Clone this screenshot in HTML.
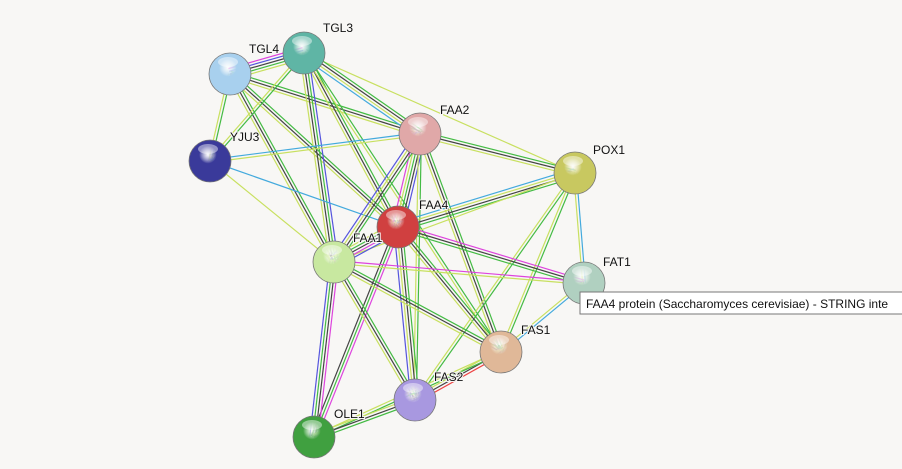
<!DOCTYPE html>
<html><head><meta charset="utf-8"><style>
html,body{margin:0;padding:0;background:#f8f7f5;}
svg{display:block}
text{font-family:"Liberation Sans",sans-serif;font-size:12px;fill:#111;paint-order:stroke;stroke:#f8f7f5;stroke-width:2px}
</style></head><body>
<svg id="s" width="902" height="469" xmlns="http://www.w3.org/2000/svg">
<rect width="902" height="469" fill="#f8f7f5"/>
<g id="edges"></g><g id="nodes"></g>
<rect x="580" y="292" width="330" height="22" fill="#fff" stroke="#777"/>
<text x="586" y="308" style="stroke:none">FAA4 protein (Saccharomyces cerevisiae) - STRING inte</text>
</svg>
<script>
var N={TGL4:[230,74,'#a8d0ee'],TGL3:[304,53,'#5fb5a5'],YJU3:[210,161,'#3a3a9a'],FAA2:[420,134,'#e0a8a8'],POX1:[575,173,'#c8c860'],FAA4:[398,227,'#d04040'],FAA1:[334,262,'#c8e8a0'],FAT1:[584,283,'#b0d0c0'],FAS1:[501,352,'#e0b898'],FAS2:[415,400,'#a898e0'],OLE1:[314,437,'#40a040']};
var L={TGL4:[249,53],TGL3:[323,32],YJU3:[230,141],FAA2:[440,114],POX1:[593,154],FAA4:[419,209],FAA1:[353,242],FAT1:[603,266],FAS1:[521,334],FAS2:[434,381],OLE1:[334,418]};
var C={g:'#44bb44',k:'#444444',b:'#5555dd',y:'#c8e060',m:'#dd44dd',c:'#44aadd',r:'#ee4444'};
var E=[['TGL4','TGL3','mbkgy'],['TGL4','YJU3','gy'],['TGL4','FAA2','gky'],['TGL4','FAA4','gky'],['TGL4','FAA1','gky'],['TGL3','POX1','y'],['TGL3','YJU3','gy'],['TGL3','FAA2','gkyc'],['TGL3','FAA4','gky'],['TGL3','FAA1','bgky'],['TGL3','FAS1','gy'],['YJU3','FAA2','cy'],['YJU3','FAA4','c'],['YJU3','FAA1','y'],['FAA2','POX1','gky'],['FAA2','FAA4','bkgym'],['FAA2','FAA1','gkyb'],['FAA2','FAS1','gky'],['FAA2','FAS2','gy'],['POX1','FAA4','gkyc'],['POX1','FAA1','y'],['POX1','FAT1','cy'],['POX1','FAS1','gy'],['POX1','FAS2','gy'],['FAA4','FAA1','bmkgy'],['FAA4','FAT1','mkg'],['FAA4','FAS1','gky'],['FAA4','FAS2','gkyb'],['FAA4','OLE1','mgk'],['FAA1','FAT1','my'],['FAA1','FAS1','gky'],['FAA1','FAS2','gky'],['FAA1','OLE1','mkgb'],['FAT1','FAS1','cy'],['FAS1','FAS2','rky'],['FAS1','OLE1','gy'],['FAS2','OLE1','gky']];
var ns='http://www.w3.org/2000/svg',eg=document.getElementById('edges'),ng=document.getElementById('nodes'),s=document.getElementById('s');
E.forEach(function(e){var a=N[e[0]],b=N[e[1]],dx=b[0]-a[0],dy=b[1]-a[1],l=Math.hypot(dx,dy),px=-dy/l,py=dx/l,n=e[2].length;
for(var i=0;i<n;i++){var o=(i-(n-1)/2)*2.8,ln=document.createElementNS(ns,'line');
ln.setAttribute('x1',a[0]+px*o);ln.setAttribute('y1',a[1]+py*o);ln.setAttribute('x2',b[0]+px*o);ln.setAttribute('y2',b[1]+py*o);
ln.setAttribute('stroke',C[e[2][i]]);ln.setAttribute('stroke-width','1.2');eg.appendChild(ln);}});
var defs=document.createElementNS(ns,'defs');s.insertBefore(defs,s.firstChild);
Object.keys(N).forEach(function(k,i){var n=N[k];
defs.innerHTML+='<radialGradient id="g'+i+'" cx="45%" cy="35%" r="70%"><stop offset="0" stop-color="#fff" stop-opacity="0.7"/><stop offset="0.3" stop-color="'+n[2]+'"/><stop offset="1" stop-color="'+n[2]+'"/></radialGradient>';
ng.innerHTML+='<circle cx="'+n[0]+'" cy="'+n[1]+'" r="21" fill="url(#g'+i+')" stroke="#777" stroke-width="0.8"/><ellipse cx="'+(n[0]-2)+'" cy="'+(n[1]-12)+'" rx="10" ry="5" fill="#fff" opacity="0.45"/><text x="'+L[k][0]+'" y="'+L[k][1]+'">'+k+'</text>';});
</script>
</body></html>
